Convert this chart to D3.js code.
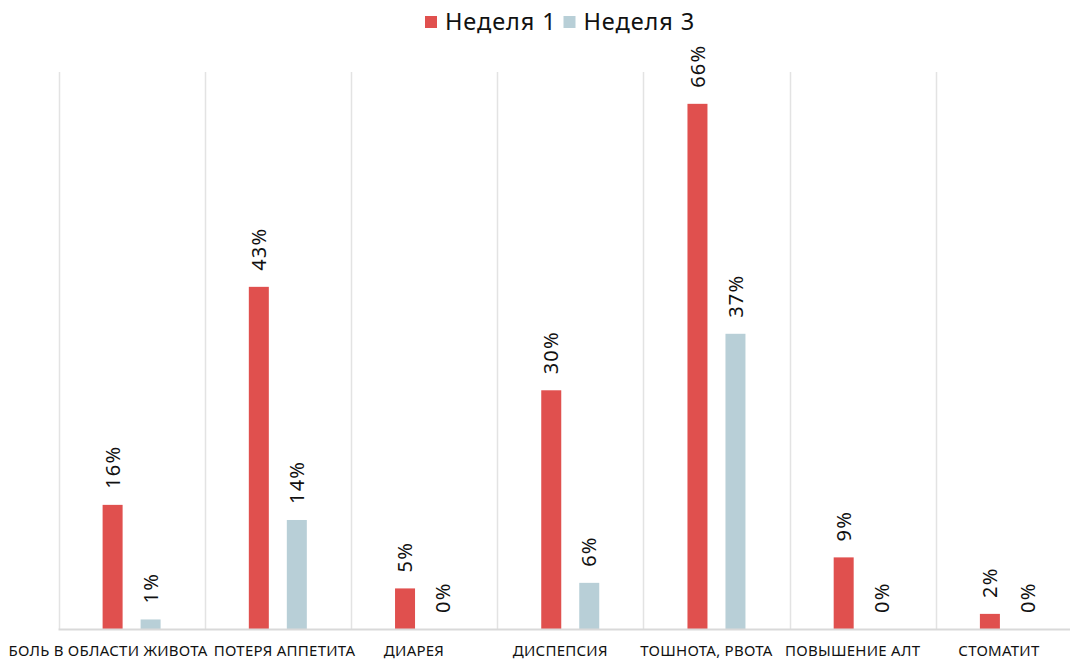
<!DOCTYPE html>
<html>
<head>
<meta charset="utf-8">
<script src="https://cdn.jsdelivr.net/npm/d3@7/dist/d3.min.js"></script>
<style>
  body { margin: 0; background: #fff; }
  svg { display: block; font-family: "Noto Sans", "DejaVu Sans", sans-serif; }
</style>
</head>
<body>
<script>
// chart data (percent, labels are shown rounded)
var categories = ["БОЛЬ В ОБЛАСТИ ЖИВОТА", "ПОТЕРЯ АППЕТИТА", "ДИАРЕЯ", "ДИСПЕПСИЯ",
                  "ТОШНОТА, РВОТА", "ПОВЫШЕНИЕ АЛТ", "СТОМАТИТ"];
var seriesNames = ["Неделя 1", "Неделя 3"];
var week1 = [15.6, 43, 5.1, 30, 66, 9, 1.9];
var week3 = [1.2, 13.7, 0, 5.8, 37.1, 0, 0];
var colors = ["#e0504e", "#b8cfd7"];

var w = 1070, h = 659;
var plotLeft = 58.5, plotRight = 1082, plotTop = 72, base = 629;

var svg = d3.select("body").append("svg")
  .attr("width", w)
  .attr("height", h);

var x = d3.scaleBand().domain(categories).range([plotLeft, plotRight]);
var y = d3.scaleLinear().domain([0, 70]).range([base, plotTop]);
var fmt = d3.format(".0f");

// vertical gridlines between categories
var gridX = categories.map(function(c) { return x(c); });
svg.append("g").selectAll("line")
  .data(gridX)
  .enter().append("line")
  .attr("x1", function(d) { return Math.round(d) + 0.5; })
  .attr("x2", function(d) { return Math.round(d) + 0.5; })
  .attr("y1", plotTop)
  .attr("y2", base)
  .attr("stroke", "#e3e3e3")
  .attr("stroke-width", 1.5);

// bars
var rows = [];
categories.forEach(function(c, i) {
  rows.push({cat: c, s: seriesNames[0], v: week1[i], col: colors[0]});
  rows.push({cat: c, s: seriesNames[1], v: week3[i], col: colors[1]});
});

var bw = 20;
function cx(d) { return x(d.cat) + x.bandwidth() / 2 + (d.s === seriesNames[0] ? -19 : 19); }

svg.append("g").selectAll("rect")
  .data(rows)
  .enter().append("rect")
  .attr("x", function(d) { return cx(d) - bw / 2; })
  .attr("y", function(d) { return y(d.v); })
  .attr("width", bw)
  .attr("height", function(d) { return base - y(d.v); })
  .attr("fill", function(d) { return d.col; });

// baseline
svg.append("line")
  .attr("x1", plotLeft).attr("x2", plotRight)
  .attr("y1", base + 0.5).attr("y2", base + 0.5)
  .attr("stroke", "#d9d9d9")
  .attr("stroke-width", 2);

// rotated value labels
svg.append("g").selectAll("text")
  .data(rows)
  .enter().append("text")
  .attr("transform", function(d) {
    return "translate(" + cx(d) + "," + (y(d.v) - 16) + ") rotate(-90)";
  })
  .attr("dy", "0.36em")
  .attr("font-size", 20)
  .attr("letter-spacing", 1.2)
  .attr("fill", "#111")
  .text(function(d) { return fmt(d.v) + "%"; });

// category labels
var catLabels = svg.append("g").selectAll("text")
  .data(categories)
  .enter().append("text")
  .attr("x", function(d) { return x(d) + x.bandwidth() / 2 - 10; })
  .attr("y", 656)
  .attr("text-anchor", "middle")
  .attr("font-size", 15)
  .attr("letter-spacing", 0.25)
  .attr("fill", "#111")
  .text(function(d) { return d; });

// wide first label hugs its band's right edge, the rest are pushed off overlaps
var prevEnd = -Infinity;
catLabels.each(function(d, i) {
  var sel = d3.select(this);
  var b = this.getBBox();
  var shift = 0;
  if (i === 0 && b.width > x.bandwidth()) shift = (x(d) + x.bandwidth() + 3) - (b.x + b.width);
  if (b.x + shift < 8) shift = 8 - b.x;
  if (b.x + shift < prevEnd + 6) shift = prevEnd + 6 - b.x;
  sel.attr("x", +sel.attr("x") + shift);
  prevEnd = b.x + shift + b.width;
});

// legend
var legend = svg.append("g");
var lx = 425;
seriesNames.forEach(function(s, i) {
  legend.append("rect")
    .attr("x", lx).attr("y", 16)
    .attr("width", 12).attr("height", 12)
    .attr("fill", colors[i]);
  var t = legend.append("text")
    .attr("x", lx + 20).attr("y", 22)
    .attr("dy", "0.36em")
    .attr("font-size", 23.5)
    .attr("letter-spacing", 0.9)
    .attr("fill", "#111")
    .text(s);
  lx = lx + 20 + t.node().getComputedTextLength() + 7;
});
</script>
</body>
</html>
